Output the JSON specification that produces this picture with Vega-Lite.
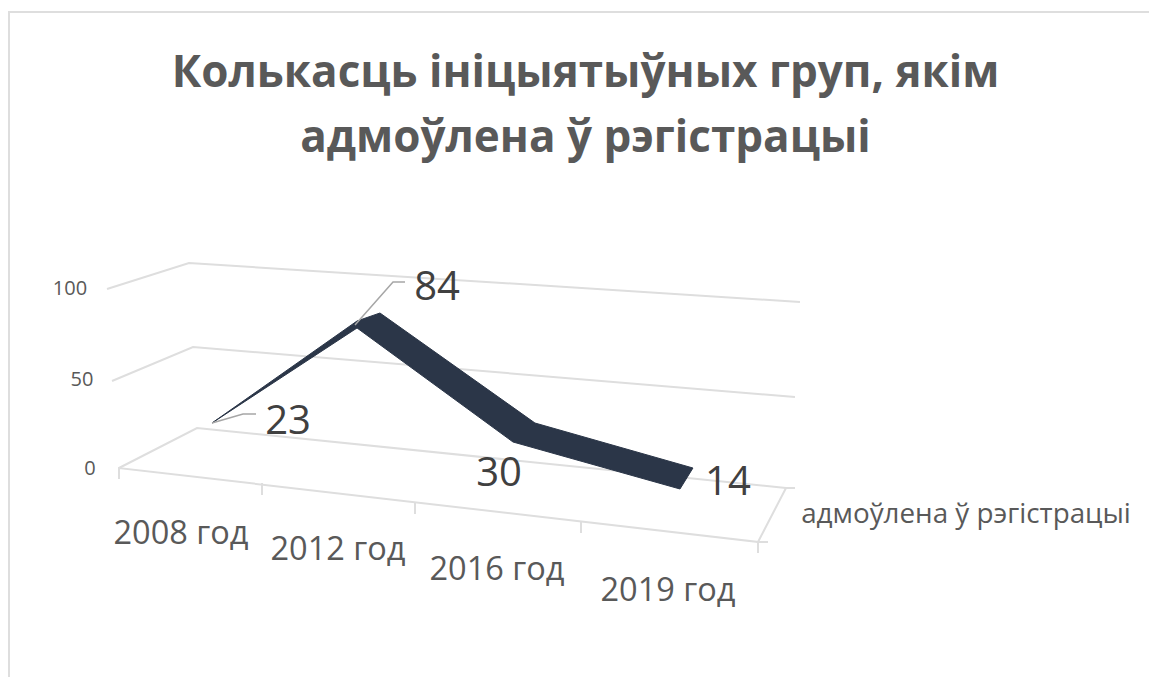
{"$schema":"https://vega.github.io/schema/vega-lite/v6.json","width":1149,"height":677,"autosize":{"type":"none"},"padding":0,"background":"white","view":{"stroke":null},
"title":{"text":["Колькасць ініцыятыўных груп, якім","адмоўлена ў рэгістрацыі"],"font":"Open Sans","fontWeight":"bold","fontSize":44,"color":"#595959","anchor":"middle","frame":"group","lineHeight":65,"baseline":"alphabetic","offset":-196,"dx":11},
"datasets":{
"series":[{"year":"2008 год","index":0,"value":23},{"year":"2012 год","index":1,"value":84},{"year":"2016 год","index":2,"value":30},{"year":"2019 год","index":3,"value":14}],
"ribbon":[
{"seq":1,"edge":"back","year":"2008 год","across":0,"height":23.33},
{"seq":2,"edge":"back","year":"2012 год","across":0.918,"height":80},
{"seq":3,"edge":"back","year":"2012 год","across":1.063,"height":84.44},
{"seq":4,"edge":"back","year":"2016 год","across":2.044,"height":23.33},
{"seq":5,"edge":"back","year":"2019 год","across":3.044,"height":-1.67},
{"seq":6,"edge":"front","year":"2019 год","across":2.962,"height":-13.33},
{"seq":7,"edge":"front","year":"2016 год","across":1.905,"height":12.78},
{"seq":8,"edge":"front","year":"2012 год","across":0.918,"height":76.11},
{"seq":9,"edge":"front","year":"2008 год","across":0,"height":23.33}],
"frame":[
{"line":"g100","seq":1,"across":-0.6646,"height":97.78},{"line":"g100","seq":2,"across":-0.1456,"height":112.22},{"line":"g100","seq":3,"across":3.7215,"height":90.56},
{"line":"g50","seq":1,"across":-0.6329,"height":46.67},{"line":"g50","seq":2,"across":-0.1203,"height":65.56},{"line":"g50","seq":3,"across":3.6899,"height":37.78},
{"line":"g0","seq":1,"across":-0.5886,"height":-1.67},{"line":"g0","seq":2,"across":-0.0949,"height":20.56},{"line":"g0","seq":3,"across":3.6329,"height":-12.78},{"line":"g0","seq":4,"across":3.6899,"height":-12.78},
{"line":"side","seq":1,"across":3.6329,"height":-12.78},{"line":"side","seq":2,"across":3.4557,"height":-42.78},{"line":"side","seq":3,"across":3.519,"height":-42.78},
{"line":"front","seq":1,"across":-0.5886,"height":-7.78},{"line":"front","seq":2,"across":-0.5886,"height":-1.67},{"line":"front","seq":3,"across":3.4557,"height":-42.78},{"line":"front","seq":4,"across":3.4557,"height":-48.89},
{"line":"t1","seq":1,"across":0.3165,"height":-10},{"line":"t1","seq":2,"across":0.3165,"height":-16.67},
{"line":"t2","seq":1,"across":1.2848,"height":-20.56},{"line":"t2","seq":2,"across":1.2848,"height":-27.22},
{"line":"t3","seq":1,"across":2.3354,"height":-31.67},{"line":"t3","seq":2,"across":2.3354,"height":-37.78},
{"line":"border","seq":1,"across":-1.2848,"height":-117.78},{"line":"border","seq":2,"across":-1.2848,"height":251.67},{"line":"border","seq":3,"across":5.9304,"height":251.67}],
"leaders":[
{"line":"l23","seq":1,"across":0,"height":23.33},{"line":"l23","seq":2,"across":0.1962,"height":28.33},{"line":"l23","seq":3,"across":0.2785,"height":28.33},
{"line":"l84","seq":1,"across":0.9051,"height":77.78},{"line":"l84","seq":2,"across":1.1456,"height":101.67},{"line":"l84","seq":3,"across":1.2215,"height":101.67}],
"categoryLabels":[{"label":"2008 год","across":-0.1962,"height":-38.3},{"label":"2012 год","across":0.7975,"height":-47.2},{"label":"2016 год","across":1.8038,"height":-58.3},{"label":"2019 год","across":2.8861,"height":-70}],
"valueLabels":[{"label":"100","across":-0.8987,"height":97.78},{"label":"50","across":-0.8228,"height":47.22},{"label":"0","across":-0.7722,"height":-2.22}],
"seriesLabel":[{"label":"адмоўлена ў рэгістрацыі","across":4.7722,"height":-27.78}]
},
"encoding":{
"x":{"field":"across","type":"quantitative","axis":null,"scale":{"domain":[-1.3418,5.9304]}},
"y":{"field":"height","type":"quantitative","axis":null,"scale":{"domain":[-117.78,258.33]}}
},
"layer":[
{"data":{"name":"frame"},"mark":{"type":"line","stroke":"#dedede","strokeWidth":2,"clip":false},"encoding":{"detail":{"field":"line"},"order":{"field":"seq"}}},
{"data":{"name":"ribbon"},"mark":{"type":"line","stroke":"#2b3648","strokeWidth":1,"fill":"#2b3648","filled":true},"encoding":{"order":{"field":"seq"}}},
{"data":{"name":"leaders"},"mark":{"type":"line","stroke":"#a6a6a6","strokeWidth":1.5},"encoding":{"detail":{"field":"line"},"order":{"field":"seq"}}},
{"data":{"name":"categoryLabels"},"mark":{"type":"text","font":"Open Sans","fontSize":32.5,"color":"#595959"},"encoding":{"text":{"field":"label"}}},
{"data":{"name":"valueLabels"},"mark":{"type":"text","font":"Open Sans","fontSize":20,"color":"#595959"},"encoding":{"text":{"field":"label"}}},
{"data":{"name":"seriesLabel"},"mark":{"type":"text","font":"Open Sans","fontSize":27.8,"color":"#595959"},"encoding":{"text":{"field":"label"}}},
{"data":{"name":"series"},"transform":[{"filter":"datum.index==0"}],"mark":{"type":"text","font":"Open Sans","fontSize":40,"color":"#404040","dx":76,"dy":-2},"encoding":{"x":{"field":"index","type":"quantitative"},"y":{"field":"value","type":"quantitative"},"text":{"field":"value"}}},
{"data":{"name":"series"},"transform":[{"filter":"datum.index==1"}],"mark":{"type":"text","font":"Open Sans","fontSize":40,"color":"#404040","dx":67,"dy":-26},"encoding":{"x":{"field":"index","type":"quantitative"},"y":{"field":"value","type":"quantitative"},"text":{"field":"value"}}},
{"data":{"name":"series"},"transform":[{"filter":"datum.index==2"}],"mark":{"type":"text","font":"Open Sans","fontSize":40,"color":"#404040","dx":-29,"dy":63},"encoding":{"x":{"field":"index","type":"quantitative"},"y":{"field":"value","type":"quantitative"},"text":{"field":"value"}}},
{"data":{"name":"series"},"transform":[{"filter":"datum.index==3"}],"mark":{"type":"text","font":"Open Sans","fontSize":40,"color":"#404040","dx":42,"dy":43},"encoding":{"x":{"field":"index","type":"quantitative"},"y":{"field":"value","type":"quantitative"},"text":{"field":"value"}}}
]}
